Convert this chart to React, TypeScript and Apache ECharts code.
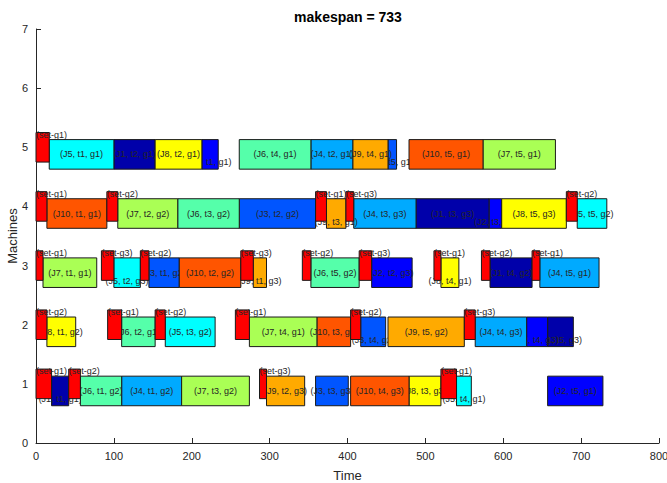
import React, { useEffect, useRef } from 'react';
import * as echarts from 'echarts';

// Job colours (jet-like map), setup colour
const jobColors = ['#0000AA', '#0000FF', '#0055FF', '#00AAFF', '#00FFFF', '#55FFAA', '#AAFF55', '#FFFF00', '#FFAA00', '#FF5500'];
const setupColor = '#FF0000';

const title = 'makespan = 733';
const xName = 'Time';
const yName = 'Machines';
const xTicks = [0, 100, 200, 300, 400, 500, 600, 700, 800];
const yTicks = [0, 1, 2, 3, 4, 5, 6, 7];

// [job, task, group, machine, start, end]
const tasks: [number, number, number, number, number, number][] = [
  // machine 5
  [5, 1, 1, 5, 17, 100], [1, 2, 1, 5, 100, 153], [8, 2, 1, 5, 153, 213], [2, 1, 1, 5, 213, 234],
  [6, 4, 1, 5, 261, 353], [4, 2, 1, 5, 353, 407], [9, 4, 1, 5, 407, 452], [3, 5, 1, 5, 452, 463],
  [10, 5, 1, 5, 479, 574], [7, 5, 1, 5, 574, 667],
  // machine 4
  [10, 1, 1, 4, 14, 91], [7, 2, 2, 4, 105, 182], [6, 3, 2, 4, 182, 261], [3, 2, 2, 4, 261, 359],
  [9, 3, 1, 4, 373, 398], [4, 3, 3, 4, 408, 488], [1, 3, 3, 4, 488, 582], [2, 3, 3, 4, 582, 598],
  [8, 5, 3, 4, 598, 681], [5, 5, 2, 4, 695, 733],
  // machine 3
  [7, 1, 1, 3, 9, 78], [5, 2, 3, 3, 100, 134], [3, 1, 2, 3, 145, 184], [10, 2, 2, 3, 184, 263],
  [9, 1, 3, 3, 279, 296], [6, 5, 2, 3, 353, 415], [2, 2, 3, 3, 431, 483], [8, 4, 1, 3, 520, 543],
  [1, 4, 2, 3, 583, 637], [4, 5, 1, 3, 647, 723],
  // machine 2
  [8, 1, 2, 2, 14, 51], [6, 2, 1, 2, 110, 153], [5, 3, 2, 2, 166, 230], [7, 4, 1, 2, 274, 361],
  [10, 3, 1, 2, 361, 404], [3, 4, 2, 2, 417, 449], [9, 5, 2, 2, 452, 550], [4, 4, 3, 2, 564, 630],
  [2, 4, 3, 2, 630, 657], [1, 5, 3, 2, 657, 690],
  // machine 1
  [1, 1, 1, 1, 20, 42], [6, 1, 2, 1, 57, 110], [4, 1, 2, 1, 110, 187], [7, 3, 2, 1, 187, 274],
  [9, 2, 3, 1, 296, 345], [3, 3, 3, 1, 359, 401], [10, 4, 3, 1, 404, 479], [8, 3, 3, 1, 479, 520],
  [5, 4, 1, 1, 540, 559], [2, 5, 1, 1, 657, 728],
];

// [group, machine, start, end]
const setups: [number, number, number, number][] = [
  [1, 5, 0, 17],
  [1, 4, 0, 14], [2, 4, 91, 105], [1, 4, 359, 373], [3, 4, 398, 408], [2, 4, 681, 695],
  [1, 3, 0, 9], [3, 3, 84, 100], [2, 3, 134, 145], [3, 3, 263, 279], [2, 3, 342, 353],
  [3, 3, 415, 431], [1, 3, 511, 520], [2, 3, 572, 583], [1, 3, 637, 647],
  [2, 2, 0, 14], [1, 2, 92, 110], [2, 2, 153, 166], [1, 2, 256, 274], [2, 2, 404, 417], [3, 2, 550, 564],
  [1, 1, 0, 20], [2, 1, 42, 57], [3, 1, 287, 296], [1, 1, 520, 540],
];

const FONT = '9px "Liberation Sans", Arial, sans-serif';

export default function App() {
  const ref = useRef<HTMLDivElement>(null);
  useEffect(() => {
    if (!ref.current) return;
    const chart = echarts.init(ref.current, undefined, { renderer: 'svg' });

    // draw in job order so later jobs cover earlier labels
    const order = tasks.map((t, i) => i).sort((a, b) => tasks[a][0] - tasks[b][0] || a - b);
    const taskData = order.map((i) => [tasks[i][4], tasks[i][5], tasks[i][3], i]);
    const setupData = setups.map((s, i) => [s[2], s[3], s[1], i]);

    const textColor = '#262626';

    const option: any = {
      animation: false,
      grid: { left: 36, top: 29, width: 623, height: 414, containLabel: false, outerBoundsMode: 'none' },
      graphic: [
        {
          type: 'text',
          x: 348,
          y: 17,
          style: {
            text: title,
            fill: '#000',
            font: 'bold 14px "Liberation Sans", Arial, sans-serif',
            align: 'center',
            verticalAlign: 'middle',
            textAlign: 'center',
            textVerticalAlign: 'middle',
          },
        },
        {
          type: 'text',
          x: 12,
          y: 236,
          rotation: Math.PI / 2,
          style: {
            text: yName,
            fill: textColor,
            font: '13px "Liberation Sans", Arial, sans-serif',
            align: 'center',
            verticalAlign: 'middle',
            textAlign: 'center',
            textVerticalAlign: 'middle',
          },
        },
      ],
      xAxis: {
        type: 'value',
        min: xTicks[0],
        max: xTicks[xTicks.length - 1],
        interval: 100,
        name: xName,
        nameLocation: 'middle',
        nameGap: 26,
        nameTextStyle: { color: textColor, fontSize: 13, fontFamily: 'Liberation Sans' },
        axisLine: { show: true, lineStyle: { color: textColor, width: 1 } },
        axisTick: { show: true, inside: true, length: 5, lineStyle: { color: textColor } },
        axisLabel: { color: textColor, fontSize: 11, fontFamily: 'Liberation Sans', margin: 7 },
        splitLine: { show: false },
      },
      yAxis: {
        type: 'value',
        min: yTicks[0],
        max: yTicks[yTicks.length - 1],
        interval: 1,
        axisLine: { show: true, lineStyle: { color: textColor, width: 1 } },
        axisTick: { show: true, inside: true, length: 5, lineStyle: { color: textColor } },
        axisLabel: { color: textColor, fontSize: 11, fontFamily: 'Liberation Sans', margin: 8 },
        splitLine: { show: false },
      },
      series: [
        {
          type: 'custom',
          name: 'tasks',
          encode: { x: [0, 1], y: 2 },
          data: taskData,
          clip: false,
          renderItem: (params: any, api: any) => {
            const idx = api.value(3);
            const t = tasks[idx];
            const m = api.value(2);
            const p0 = api.coord([api.value(0), m + 0.13]);
            const p1 = api.coord([api.value(1), m - 0.37]);
            const w = p1[0] - p0[0];
            const h = p1[1] - p0[1];
            const label = `(J${t[0]}, t${t[1]}, g${t[2]})`;
            // very narrow blocks push their label down a little
            const dy = w < 28 ? 8 : 0;
            return {
              type: 'group',
              children: [
                {
                  type: 'rect',
                  shape: { x: p0[0], y: p0[1], width: w, height: h },
                  style: { fill: jobColors[t[0] - 1], stroke: '#1a1a1a', lineWidth: 1 },
                },
                {
                  type: 'text',
                  x: p0[0] + w / 2,
                  y: p0[1] + h / 2 + dy,
                  style: {
                    text: label,
                    fill: textColor,
                    font: FONT,
                    align: 'center',
                    verticalAlign: 'middle',
                    textAlign: 'center',
                    textVerticalAlign: 'middle',
                  },
                },
              ],
            };
          },
        },
        {
          type: 'custom',
          name: 'setups',
          encode: { x: [0, 1], y: 2 },
          data: setupData,
          clip: false,
          renderItem: (params: any, api: any) => {
            const idx = api.value(3);
            const s = setups[idx];
            const m = api.value(2);
            const p0 = api.coord([api.value(0), m + 0.25]);
            const p1 = api.coord([api.value(1), m - 0.25]);
            const w = p1[0] - p0[0];
            const h = p1[1] - p0[1];
            return {
              type: 'group',
              children: [
                {
                  type: 'rect',
                  shape: { x: p0[0], y: p0[1], width: w, height: h },
                  style: { fill: setupColor, stroke: '#1a1a1a', lineWidth: 1 },
                },
                {
                  type: 'text',
                  x: p0[0],
                  y: p0[1] + 2,
                  style: {
                    text: `(set-g${s[0]})`,
                    fill: textColor,
                    font: FONT,
                    align: 'left',
                    verticalAlign: 'middle',
                    textAlign: 'left',
                    textVerticalAlign: 'middle',
                  },
                },
              ],
            };
          },
        },
      ],
    };
    chart.setOption(option);
    return () => chart.dispose();
  }, []);
  return (
    <div
      ref={ref}
      style={{ position: 'absolute', left: 0, top: 0, width: 667, height: 483, background: '#fff' }}
    />
  );
}
